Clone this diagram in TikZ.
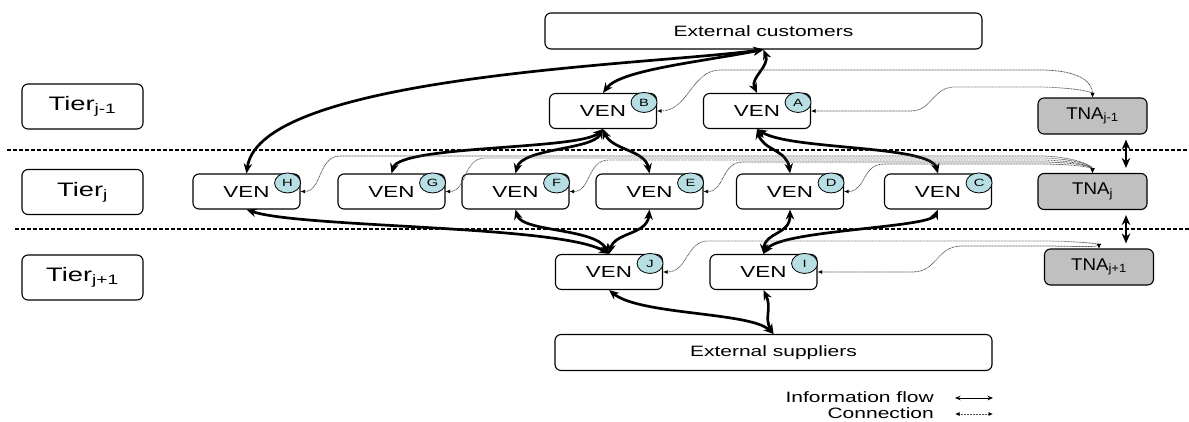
\documentclass[tikz,border=0pt]{standalone}
\usepackage{fontspec}
\setmainfont{Liberation Sans}
\newfontfamily\wfont{Liberation Sans}[FakeStretch=1.4]
\newfontfamily\tfont{Liberation Sans}[FakeStretch=1.1]
\usetikzlibrary{arrows.meta,shapes.geometric}
\definecolor{circfill}{RGB}{183,222,226}
\definecolor{tnafill}{RGB}{192,192,192}
\definecolor{dotgray}{RGB}{80,80,80}
\tikzset{
  box/.style={draw, line width=1.1pt, rounded corners=6pt, fill=white, inner sep=0pt,
    font=\wfont\fontsize{16}{19}\selectfont},
  ven/.style={box, minimum width=107pt, minimum height=35pt},
  tier/.style={box, minimum width=121pt, minimum height=45pt, font=\wfont\fontsize{19.5}{23}\selectfont},
  ext/.style={box, minimum width=437pt, minimum height=36pt, font=\wfont\fontsize{15}{18}\selectfont},
  tna/.style={box, fill=tnafill, minimum width=109pt, minimum height=36pt, font=\tfont\fontsize{17}{20}\selectfont},
  badge/.style={ellipse, draw, line width=0.8pt, fill=circfill, minimum width=26pt, minimum height=20pt,
    inner sep=0pt, font=\wfont\fontsize{10.5}{11}\selectfont},
  flow/.style={line width=2.7pt, {Stealth[length=10pt,width=8.5pt]}-{Stealth[length=10pt,width=8.5pt]}},
  conn/.style={draw=dotgray, line width=0.75pt, dash pattern=on 0.9pt off 0.6pt,
    {Latex[length=4.5pt,width=4pt,black]}-{Latex[length=4.5pt,width=4pt,black]}},
  sepline/.style={line width=2pt, dash pattern=on 4pt off 2pt},
  legtext/.style={font=\wfont\fontsize{15}{17}\selectfont, inner sep=0pt, anchor=east},
  legflow/.style={line width=1pt, {Stealth[length=5.5pt,width=4.5pt]}-{Stealth[length=5.5pt,width=4.5pt]}},
}
\begin{document}
\begin{tikzpicture}[x=1pt,y=-1pt]
\useasboundingbox (0,0) rectangle (1189,421);

% separators
\draw[sepline] (7,150) -- (1189,150);
\draw[sepline] (15,229) -- (1189,229);

% tier labels
\node[tier] (t1) at (82.5,106.5) {Tier\textsubscript{j-1}};
\node[tier] (t2) at (82.5,192) {Tier\textsubscript{j}};
\node[tier] (t3) at (82.5,277.5) {Tier\textsubscript{j+1}};

% external
\node[ext] (ec) at (763.5,31) {External customers};
\node[ext] (es) at (773.5,352.5) {External suppliers};

% VEN nodes
\node[ven] (B) at (603,111) {VEN};
\node[ven] (A) at (757,111) {VEN};
\node[ven] (H) at (246.5,191.5) {VEN};
\node[ven] (G) at (391.5,191.5) {VEN};
\node[ven] (F) at (515.5,191.5) {VEN};
\node[ven] (E) at (649.5,191.5) {VEN};
\node[ven] (D) at (790,191.5) {VEN};
\node[ven] (C) at (938,191.5) {VEN};
\node[ven] (J) at (609,272) {VEN};
\node[ven] (I) at (763.5,272) {VEN};

\foreach \n in {A,B,C,D,E,F,G,H,I,J}{
  \node[badge] (b\n) at ([xshift=-13pt,yshift=-9.5pt]\n.north east) {\n};
}

% TNA nodes
\node[tna] (ta) at (1092.5,116) {TNA\textsubscript{j-1}};
\node[tna] (tb) at (1092.5,191.5) {TNA\textsubscript{j}};
\node[tna] (tc) at (1099,267) {TNA\textsubscript{j+1}};

% information flows
\draw[flow] (ec.south) .. controls (650,65) and (260,75) .. (H.north);
\draw[flow] (ec.south) .. controls (700,62) and (620,70) .. (B.north);
\draw[flow] (ec.south) .. controls (770,66) and (750,78) .. (A.north);
\draw[flow] (B.south) .. controls (580,150) and (400,145) .. (G.north);
\draw[flow] (B.south) .. controls (592,150) and (522,148) .. (F.north);
\draw[flow] (B.south) .. controls (612,150) and (645,150) .. (E.north);
\draw[flow] (A.south) .. controls (763,150) and (787,150) .. (D.north);
\draw[flow] (A.south) .. controls (790,150) and (930,145) .. (C.north);
\draw[flow] (H.south) .. controls (300,228) and (560,225) .. (J.north);
\draw[flow] (F.south) .. controls (522,232) and (595,228) .. (J.north);
\draw[flow] (E.south) .. controls (647,235) and (615,232) .. (J.north);
\draw[flow] (D.south) .. controls (790,235) and (765,232) .. (I.north);
\draw[flow] (C.south) .. controls (930,228) and (780,230) .. (I.north);
\draw[flow] (J.south) .. controls (640,315) and (750,312) .. (es.north);
\draw[flow] (I.south) .. controls (772,308) and (764,318) .. (es.north);
\draw[flow] ([xshift=33.5pt,yshift=-5pt]ta.south) -- ([xshift=33.5pt,yshift=5pt]tb.north);
\draw[flow] ([xshift=33.5pt,yshift=-5pt]tb.south) -- ([xshift=27pt,yshift=5pt]tc.north);

% connections (dotted)
\draw[conn] (ta.north) .. controls (1092.5,80) and (1075,70) .. (1040,70) -- (720,70)
  .. controls (692,70) and (688,111) .. (B.east);
\draw[conn] (ta.north) .. controls (1092.5,92) and (1072,87) .. (1035,87) -- (955,87)
  .. controls (932,87) and (933,111) .. (910,111) -- (A.east);
\draw[conn] (tb.north) .. controls (1092.5,165) and (1070,156) .. (1040,156) -- (340,156)
  .. controls (318,156) and (322,191.5) .. (H.east);
\draw[conn] (tb.north) .. controls (1092.5,165) and (1070,158) .. (1040,158) -- (485,158)
  .. controls (463,158) and (467,191.5) .. (G.east);
\draw[conn] (tb.north) .. controls (1092.5,166) and (1070,160) .. (1040,160) -- (609,160)
  .. controls (587,160) and (591,191.5) .. (F.east);
\draw[conn] (tb.north) .. controls (1092.5,166) and (1070,162) .. (1040,162) -- (743,162)
  .. controls (721,162) and (725,191.5) .. (E.east);
\draw[conn] (tb.north) .. controls (1092.5,167) and (1070,164) .. (1040,164) -- (884,164)
  .. controls (862,164) and (866,191.5) .. (D.east);
\draw[conn] (tc.north) .. controls (1099,244) and (1080,241) .. (1040,241) -- (708,241)
  .. controls (686,241) and (688,272) .. (J.east);
\draw[conn] (tc.north) .. controls (1099,248) and (1078,246) .. (1040,246) -- (962,246)
  .. controls (936,246) and (938,272) .. (912,272) -- (I.east);

% legend
\node[legtext] (lf) at (934,397) {Information flow};
\node[legtext] (lc) at (934,413) {Connection};
\coordinate (lf1) at (955,398);
\coordinate (lf2) at (993,398);
\coordinate (lc1) at (955,414);
\coordinate (lc2) at (993,414);
\draw[legflow] (lf1) -- (lf2);
\draw[conn] (lc1) -- (lc2);
\end{tikzpicture}
\end{document}
